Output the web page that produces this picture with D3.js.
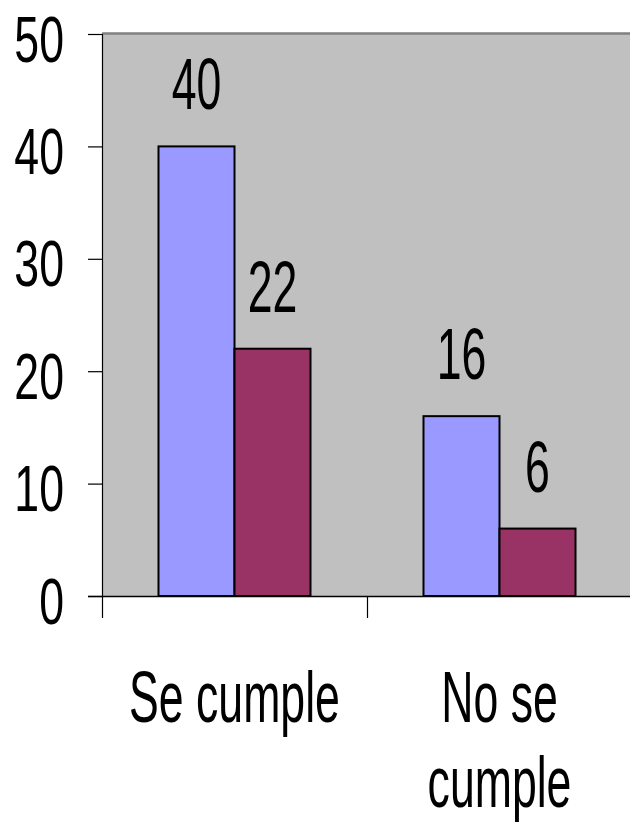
<!DOCTYPE html>
<html>
<head>
<meta charset="utf-8">
<script src="https://cdn.jsdelivr.net/npm/d3@7"></script>
<style>
  html, body { margin: 0; padding: 0; background: #ffffff; }
  svg { display: block; }
  text { font-family: "Liberation Sans", Arial, sans-serif; fill: #000; }
</style>
</head>
<body>
<svg id="chart" width="630" height="826"></svg>
<script>
// ---- data ----
const categories = ["Se cumple", "No se cumple"];
const seriesNames = ["Serie 1", "Serie 2"];
const series1 = [40, 16];
const series2 = [22, 6];
const yTicks = [0, 10, 20, 30, 40, 50];
const seriesColors = ["#9999FF", "#993366"];

// ---- layout ----
const W = 630, H = 826;
const plot = { left: 102, top: 34, right: 632, bottom: 596 };
const fontSize = 72, sx = 0.62;
const tickFont = 65, tickSx = 0.62 * 72 / 65;

const svg = d3.select("#chart");

const y = d3.scaleLinear().domain([0, 50]).range([plot.bottom, plot.top]);
const x0 = d3.scaleBand().domain(categories).range([plot.left, plot.right]).padding(0);
const bw = x0.bandwidth();
const x1 = d3.scaleBand().domain(seriesNames).range([bw * 0.2132, bw * 0.7868]).padding(0);

const rows = categories.map((c, i) => ({ cat: c, values: [series1[i], series2[i]] }));

// plot area background
svg.append("rect")
  .attr("x", plot.left).attr("y", plot.top)
  .attr("width", plot.right - plot.left + 4).attr("height", plot.bottom - plot.top)
  .attr("fill", "#C0C0C0");
// top border (gray)
svg.append("line")
  .attr("x1", plot.left).attr("x2", W)
  .attr("y1", plot.top - 0.5).attr("y2", plot.top - 0.5)
  .attr("stroke", "#808080").attr("stroke-width", 2.5);

// bars
const g = svg.append("g");
const groups = g.selectAll("g.cat").data(rows).join("g")
  .attr("class", "cat")
  .attr("transform", d => `translate(${x0(d.cat)},0)`);

groups.selectAll("rect").data(d => d.values.map((v, j) => ({ v, s: seriesNames[j], j })))
  .join("rect")
  .attr("x", d => x1(d.s))
  .attr("y", d => y(d.v))
  .attr("width", x1.bandwidth())
  .attr("height", d => y(0) - y(d.v))
  .attr("fill", d => seriesColors[d.j])
  .attr("stroke", "#000")
  .attr("stroke-width", 2);

// data labels
groups.selectAll("text.val").data(d => d.values.map((v, j) => ({ v, s: seriesNames[j], j })))
  .join("text")
  .attr("class", "val")
  .attr("transform", d => `translate(${x1(d.s) + x1.bandwidth() / 2},${y(d.v) - 37}) scale(${sx},1)`)
  .attr("text-anchor", "middle")
  .attr("font-size", fontSize)
  .text(d => d.v);

// y axis
const yAxis = d3.axisLeft(y).tickValues(yTicks).tickSize(14).tickPadding(0).tickFormat(d3.format("d"));
const yg = svg.append("g").attr("transform", `translate(${plot.left},0)`).call(yAxis);
yg.select(".domain").attr("stroke", "#000").attr("stroke-width", 1.2)
  .attr("d", `M0.5,${plot.top}V${plot.bottom}`);
yg.selectAll(".tick line").attr("stroke", "#000").attr("stroke-width", 1.2);
yg.selectAll(".tick text").remove();
yg.selectAll(".tick").append("text")
  .attr("transform", `translate(-38,27) scale(${tickSx},1)`)
  .attr("text-anchor", "end")
  .attr("font-size", tickFont)
  .attr("fill", "#000")
  .text(d => d);

// x axis
const xTickPos = [...categories.map(c => x0(c)), plot.right];
svg.append("line")
  .attr("x1", plot.left - 14).attr("x2", W)
  .attr("y1", plot.bottom + 0.5).attr("y2", plot.bottom + 0.5)
  .attr("stroke", "#000").attr("stroke-width", 1.5);
svg.selectAll("line.xt").data(xTickPos).join("line")
  .attr("class", "xt")
  .attr("x1", d => d + 0.5).attr("x2", d => d + 0.5)
  .attr("y1", plot.bottom).attr("y2", plot.bottom + 22)
  .attr("stroke", "#000").attr("stroke-width", 1.2);

// category labels with wrapping
const catG = svg.append("g");
categories.forEach(c => {
  const cx = x0(c) + bw / 2;
  const t = catG.append("text")
    .attr("transform", `translate(${cx},${plot.bottom + 126}) scale(${sx},1)`)
    .attr("text-anchor", "middle")
    .attr("font-size", fontSize);
  const words = c.split(" ");
  let line = [];
  let tspan = t.append("tspan").attr("x", 0).attr("dy", 0);
  words.forEach(w => {
    line.push(w);
    tspan.text(line.join(" "));
    if (tspan.node().getComputedTextLength() * sx > bw && line.length > 1) {
      line.pop();
      tspan.text(line.join(" "));
      line = [w];
      tspan = t.append("tspan").attr("x", 0).attr("dy", 85).text(w);
    }
  });
});
</script>
</body>
</html>
